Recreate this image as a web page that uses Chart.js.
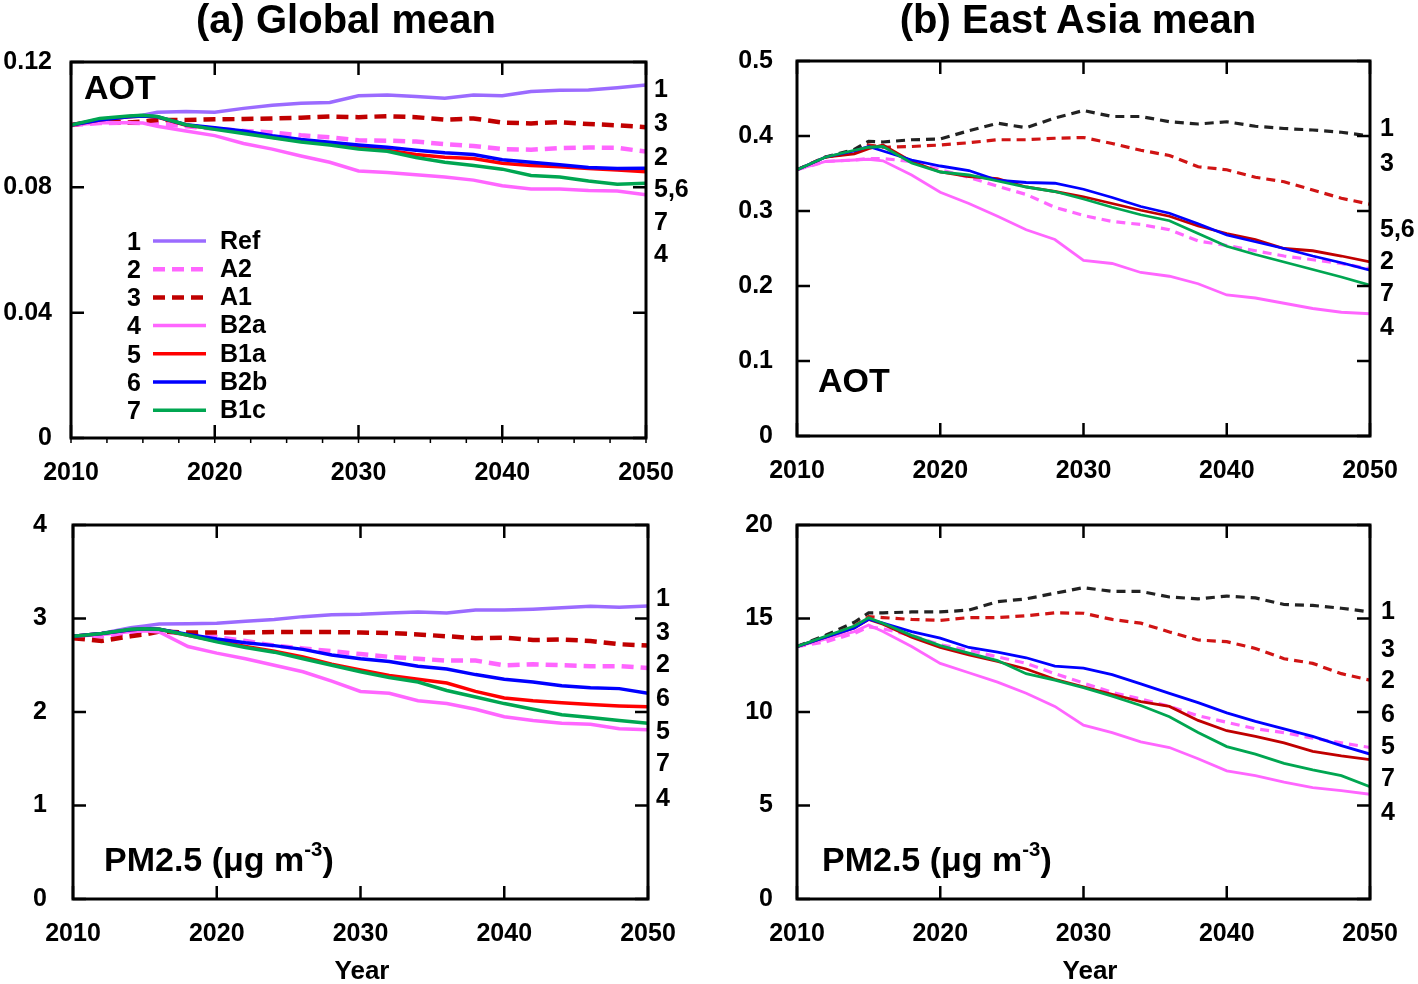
<!DOCTYPE html>
<html>
<head>
<meta charset="utf-8">
<script src="https://cdn.jsdelivr.net/npm/chart.js@4.4.1/dist/chart.umd.min.js"></script>
<style>
  body { margin: 0; background: #fff; width: 1418px; height: 984px; position: relative; overflow: hidden;
         font-family: "Liberation Sans", Arial, sans-serif; font-weight: bold; color: #000; }
  canvas { position: absolute; }
  .txt { position: absolute; white-space: nowrap; line-height: 1; }
  .txt sup { font-size: 0.6em; vertical-align: 0.75em; line-height: 0; }
</style>
</head>
<body>
<canvas id="chartA" width="709" height="500" style="left:0;top:0"></canvas>
<canvas id="chartB" width="709" height="500" style="left:709px;top:0"></canvas>
<canvas id="chartC" width="709" height="461" style="left:0;top:500px"></canvas>
<canvas id="chartD" width="709" height="461" style="left:709px;top:500px"></canvas>

<script>
const years = [2010, 2012, 2014, 2015, 2016, 2018, 2020, 2022, 2024, 2026, 2028,
               2030, 2032, 2034, 2036, 2038, 2040, 2042, 2044, 2046, 2048, 2050];
const xTickYears = [2010, 2020, 2030, 2040, 2050];
const scenarioNumbers = ["1", "2", "3", "4", "5", "6", "7"];
const scenarioNames = ["Ref", "A2", "A1", "B2a", "B1a", "B2b", "B1c"];

// (a) global mean AOT
const gAotRef = [0.0999, 0.1017, 0.1025, 0.1030, 0.1040, 0.1042, 0.1040, 0.1052, 0.1062, 0.1068, 0.1071, 0.1092, 0.1095, 0.1090, 0.1084, 0.1095, 0.1092, 0.1106, 0.1110, 0.1111, 0.1118, 0.1127];
const gAotA2  = [0.0999, 0.1005, 0.1006, 0.1005, 0.1003, 0.0995, 0.0987, 0.0980, 0.0975, 0.0966, 0.0960, 0.0950, 0.0949, 0.0946, 0.0938, 0.0932, 0.0922, 0.0920, 0.0925, 0.0927, 0.0926, 0.0914];
const gAotA1  = [0.0999, 0.1013, 0.1007, 0.1010, 0.1015, 0.1015, 0.1017, 0.1018, 0.1020, 0.1022, 0.1026, 0.1024, 0.1027, 0.1024, 0.1016, 0.1020, 0.1007, 0.1004, 0.1008, 0.1002, 0.0998, 0.0992];
const gAotB2a = [0.0999, 0.1006, 0.1006, 0.1005, 0.0995, 0.0980, 0.0965, 0.0940, 0.0922, 0.0900, 0.0880, 0.0852, 0.0847, 0.0840, 0.0833, 0.0823, 0.0805, 0.0795, 0.0795, 0.0790, 0.0788, 0.0776];
const gAotB1a = [0.0999, 0.1015, 0.1025, 0.1028, 0.1024, 0.0998, 0.0988, 0.0975, 0.0960, 0.0948, 0.0938, 0.0928, 0.0918, 0.0905, 0.0896, 0.0892, 0.0877, 0.0870, 0.0866, 0.0860, 0.0855, 0.0850];
const gAotB2b = [0.0999, 0.1015, 0.1025, 0.1028, 0.1025, 0.1000, 0.0990, 0.0980, 0.0965, 0.0953, 0.0944, 0.0935, 0.0928, 0.0918, 0.0910, 0.0905, 0.0888, 0.0880, 0.0872, 0.0863, 0.0860, 0.0861];
const gAotB1c = [0.0999, 0.1020, 0.1028, 0.1030, 0.1026, 0.1000, 0.0985, 0.0972, 0.0958, 0.0945, 0.0935, 0.0922, 0.0915, 0.0895, 0.0880, 0.0870, 0.0858, 0.0838, 0.0833, 0.0820, 0.0810, 0.0813];
const gAotTicks = [0, 0.04, 0.08, 0.12];

// (b) East Asia mean AOT
const eaAotRef = [0.355, 0.372, 0.382, 0.393, 0.392, 0.395, 0.396, 0.407, 0.417, 0.411, 0.424, 0.434, 0.426, 0.426, 0.419, 0.416, 0.419, 0.413, 0.410, 0.408, 0.405, 0.400];
const eaAotA2  = [0.355, 0.366, 0.368, 0.370, 0.370, 0.366, 0.355, 0.345, 0.333, 0.322, 0.305, 0.294, 0.286, 0.282, 0.275, 0.260, 0.254, 0.247, 0.240, 0.235, 0.230, 0.223];
const eaAotA1  = [0.355, 0.372, 0.378, 0.388, 0.385, 0.386, 0.388, 0.391, 0.395, 0.395, 0.397, 0.398, 0.390, 0.381, 0.374, 0.359, 0.355, 0.345, 0.339, 0.328, 0.317, 0.309];
const eaAotB2a = [0.355, 0.366, 0.368, 0.369, 0.367, 0.348, 0.325, 0.310, 0.293, 0.275, 0.262, 0.234, 0.230, 0.218, 0.213, 0.203, 0.188, 0.184, 0.177, 0.170, 0.165, 0.163];
const eaAotB1a = [0.355, 0.372, 0.376, 0.383, 0.388, 0.366, 0.352, 0.346, 0.343, 0.332, 0.326, 0.319, 0.310, 0.301, 0.293, 0.280, 0.270, 0.262, 0.250, 0.247, 0.240, 0.232];
const eaAotB2b = [0.355, 0.372, 0.380, 0.386, 0.380, 0.368, 0.360, 0.354, 0.341, 0.338, 0.337, 0.329, 0.318, 0.306, 0.297, 0.283, 0.268, 0.259, 0.250, 0.240, 0.231, 0.221];
const eaAotB1c = [0.355, 0.372, 0.381, 0.385, 0.386, 0.364, 0.352, 0.348, 0.340, 0.332, 0.326, 0.316, 0.305, 0.295, 0.287, 0.270, 0.253, 0.242, 0.232, 0.222, 0.212, 0.201];
const eaAotTicks = [0, 0.1, 0.2, 0.3, 0.4, 0.5];

// global mean PM2.5
const gPmRef = [2.81, 2.84, 2.90, 2.92, 2.94, 2.945, 2.95, 2.97, 2.99, 3.02, 3.04, 3.045, 3.06, 3.07, 3.06, 3.09, 3.09, 3.10, 3.115, 3.13, 3.12, 3.135];
const gPmA2  = [2.81, 2.81, 2.84, 2.86, 2.87, 2.83, 2.80, 2.76, 2.71, 2.68, 2.65, 2.62, 2.59, 2.57, 2.55, 2.55, 2.50, 2.51, 2.50, 2.49, 2.49, 2.47];
const gPmA1  = [2.79, 2.76, 2.81, 2.83, 2.86, 2.85, 2.85, 2.85, 2.855, 2.855, 2.855, 2.85, 2.845, 2.83, 2.81, 2.79, 2.795, 2.77, 2.775, 2.76, 2.725, 2.71];
const gPmB2a = [2.81, 2.83, 2.86, 2.87, 2.855, 2.70, 2.63, 2.57, 2.50, 2.43, 2.33, 2.22, 2.20, 2.12, 2.09, 2.03, 1.95, 1.91, 1.88, 1.87, 1.82, 1.81];
const gPmB1a = [2.81, 2.84, 2.88, 2.89, 2.885, 2.82, 2.76, 2.70, 2.65, 2.59, 2.51, 2.45, 2.39, 2.35, 2.31, 2.22, 2.15, 2.12, 2.10, 2.08, 2.065, 2.055];
const gPmB2b = [2.81, 2.84, 2.88, 2.89, 2.885, 2.83, 2.78, 2.74, 2.71, 2.67, 2.61, 2.57, 2.54, 2.49, 2.46, 2.40, 2.35, 2.32, 2.28, 2.26, 2.25, 2.20];
const gPmB1c = [2.81, 2.84, 2.885, 2.89, 2.885, 2.82, 2.75, 2.69, 2.64, 2.57, 2.50, 2.43, 2.37, 2.32, 2.23, 2.16, 2.09, 2.03, 1.97, 1.94, 1.91, 1.88];
const gPmTicks = [0, 1, 2, 3, 4];

// East Asia mean PM2.5
const eaPmRef = [13.5, 14.1, 14.8, 15.3, 15.3, 15.35, 15.35, 15.45, 15.9, 16.05, 16.35, 16.65, 16.45, 16.45, 16.15, 16.05, 16.2, 16.1, 15.75, 15.7, 15.55, 15.35];
const eaPmA1  = [13.5, 14.0, 14.6, 15.1, 15.05, 14.95, 14.9, 15.05, 15.05, 15.15, 15.3, 15.28, 14.95, 14.75, 14.28, 13.85, 13.76, 13.4, 12.85, 12.6, 12.05, 11.7];
const eaPmA2  = [13.5, 13.75, 14.2, 14.55, 14.45, 14.1, 13.6, 13.3, 12.95, 12.6, 12.05, 11.55, 11.05, 10.7, 10.3, 9.8, 9.45, 9.1, 8.9, 8.6, 8.35, 8.1];
const eaPmB2a = [13.5, 13.9, 14.3, 14.65, 14.3, 13.5, 12.6, 12.1, 11.6, 11.0, 10.3, 9.3, 8.9, 8.4, 8.1, 7.5, 6.85, 6.6, 6.25, 5.95, 5.8, 5.6];
const eaPmB1a = [13.5, 14.0, 14.5, 14.95, 14.7, 14.0, 13.45, 13.05, 12.7, 12.3, 11.75, 11.35, 10.95, 10.55, 10.3, 9.55, 9.0, 8.7, 8.35, 7.9, 7.65, 7.45];
const eaPmB2b = [13.5, 14.0, 14.5, 14.96, 14.75, 14.3, 13.95, 13.45, 13.2, 12.9, 12.45, 12.35, 12.0, 11.5, 11.0, 10.5, 9.95, 9.5, 9.1, 8.7, 8.2, 7.75];
const eaPmB1c = [13.5, 14.05, 14.6, 15.04, 14.75, 14.1, 13.55, 13.15, 12.75, 12.05, 11.7, 11.3, 10.85, 10.35, 9.75, 8.9, 8.15, 7.75, 7.25, 6.9, 6.6, 6.0];
const eaPmTicks = [0, 5, 10, 15, 20];

const FONT = '"Liberation Sans", Arial, sans-serif';
const DASH_A = [12, 7];
const DASH_B = [9, 6];

// line styles, in scenario order
const globalStyles = [
  { color: "#9b6bff", dash: [] },
  { color: "#ff66ff", dash: DASH_A },
  { color: "#c00000", dash: DASH_A },
  { color: "#ff66ff", dash: [] },
  { color: "#ff0000", dash: [] },
  { color: "#0000ff", dash: [] },
  { color: "#00a651", dash: [] }
];
const eastAsiaStyles = [
  { color: "#222222", dash: DASH_B },
  { color: "#ff66ff", dash: DASH_B },
  { color: "#d01414", dash: DASH_B },
  { color: "#ff66ff", dash: [] },
  { color: "#c00000", dash: [] },
  { color: "#0000ff", dash: [] },
  { color: "#00a651", dash: [] }
];

// frame with inward ticks, like the original plotting package
const framePlugin = {
  id: "frame",
  afterDraw(chart, args, opts) {
    const { ctx, chartArea: a, scales: { x, y } } = chart;
    ctx.save();
    ctx.strokeStyle = "#000";
    ctx.lineWidth = 2.5;
    ctx.beginPath();
    y.ticks.forEach(t => {
      const py = y.getPixelForValue(t.value);
      ctx.moveTo(a.left, py); ctx.lineTo(a.left + 13, py);
      ctx.moveTo(a.right, py); ctx.lineTo(a.right - 13, py);
    });
    x.ticks.forEach(t => {
      const px = x.getPixelForValue(t.value);
      ctx.moveTo(px, a.top); ctx.lineTo(px, a.top + 13);
      ctx.moveTo(px, a.bottom); ctx.lineTo(px, a.bottom - 13);
    });
    ctx.stroke();
    if (opts.minor) {
      ctx.lineWidth = 1.5;
      ctx.beginPath();
      for (let yr = x.min; yr <= x.max; yr += 2.5) {
        const px = x.getPixelForValue(yr);
        ctx.moveTo(px, a.bottom); ctx.lineTo(px, a.bottom + 5);
      }
      ctx.stroke();
    }
    ctx.lineWidth = 3;
    ctx.strokeRect(a.left, a.top, a.right - a.left, a.bottom - a.top);
    ctx.restore();
  }
};

// "1 ——— Ref" style key inside panel (a)
const keyPlugin = {
  id: "scenarioKey",
  afterDraw(chart, args, opts) {
    if (!opts.show) return;
    const ctx = chart.ctx;
    ctx.save();
    ctx.font = "bold 25px " + FONT;
    ctx.fillStyle = "#000";
    ctx.textBaseline = "middle";
    chart.data.datasets.forEach((ds, i) => {
      const rowY = opts.top + i * opts.step;
      ctx.textAlign = "right";
      ctx.fillText(scenarioNumbers[i], opts.numX, rowY + 2);
      ctx.textAlign = "left";
      ctx.fillText(scenarioNames[i], opts.nameX, rowY + 1);
      ctx.beginPath();
      ctx.strokeStyle = ds.borderColor;
      ctx.lineWidth = ds.borderWidth;
      ctx.setLineDash(ds.borderDash);
      ctx.moveTo(opts.lineX0, rowY);
      ctx.lineTo(opts.lineX1, rowY);
      ctx.stroke();
      ctx.setLineDash([]);
    });
    ctx.restore();
  }
};

const panels = [
  { id: "chartA", series: [gAotRef, gAotA2, gAotA1, gAotB2a, gAotB1a, gAotB2b, gAotB1c],
    ticks: gAotTicks, styles: globalStyles, lineWidth: 3.5, dashWidth: 4.5,
    yWidth: 71, yPad: 19, padTop: 62, padRight: 63, xHeight: 62, minor: true,
    key: { show: true, top: 241, step: 28.2, numX: 141, lineX0: 153, lineX1: 206, nameX: 220 } },
  { id: "chartB", series: [eaAotRef, eaAotA2, eaAotA1, eaAotB2a, eaAotB1a, eaAotB2b, eaAotB1c],
    ticks: eaAotTicks, styles: eastAsiaStyles, lineWidth: 2.8, dashWidth: 3.2,
    yWidth: 88, yPad: 24, padTop: 61, padRight: 48, xHeight: 64, minor: false, key: { show: false } },
  { id: "chartC", series: [gPmRef, gPmA2, gPmA1, gPmB2a, gPmB1a, gPmB2b, gPmB1c],
    ticks: gPmTicks, styles: globalStyles, lineWidth: 3.5, dashWidth: 4.5,
    yWidth: 73, yPad: 26, padTop: 25, padRight: 61, xHeight: 62, minor: false, key: { show: false } },
  { id: "chartD", series: [eaPmRef, eaPmA2, eaPmA1, eaPmB2a, eaPmB1a, eaPmB2b, eaPmB1c],
    ticks: eaPmTicks, styles: eastAsiaStyles, lineWidth: 2.8, dashWidth: 3.2,
    yWidth: 88, yPad: 24, padTop: 25, padRight: 48, xHeight: 62, minor: false, key: { show: false } }
];

const tickFont = { family: FONT, size: 25, weight: "bold" };

panels.forEach(p => {
  const n = p.series.length;
  new Chart(document.getElementById(p.id), {
    type: "line",
    data: {
      datasets: p.series.map((vals, i) => {
        const st = p.styles[i];
        return {
          label: scenarioNames[i],
          data: vals.map((v, k) => ({ x: years[k], y: v })),
          borderColor: st.color,
          borderDash: st.dash,
          borderWidth: st.dash.length ? p.dashWidth : p.lineWidth,
          pointRadius: 0,
          fill: false,
          tension: 0,
          order: n - i
        };
      })
    },
    options: {
      responsive: false,
      animation: false,
      events: [],
      layout: { padding: { top: p.padTop, right: p.padRight, left: 0, bottom: 0 } },
      plugins: {
        legend: { display: false },
        tooltip: { enabled: false },
        frame: { minor: p.minor },
        scenarioKey: p.key
      },
      scales: {
        x: {
          type: "linear", min: 2010, max: 2050,
          grid: { display: false, drawTicks: false },
          border: { display: false },
          afterBuildTicks: s => { s.ticks = xTickYears.map(v => ({ value: v })); },
          afterFit: s => { s.height = p.xHeight; s.paddingLeft = 0; s.paddingRight = 0; },
          ticks: { padding: 20, maxRotation: 0, autoSkip: false, color: "#000", font: tickFont,
                   callback: v => String(v) }
        },
        y: {
          min: p.ticks[0], max: p.ticks[p.ticks.length - 1],
          grid: { display: false, drawTicks: false },
          border: { display: false },
          afterBuildTicks: s => { s.ticks = p.ticks.map(v => ({ value: v })); },
          afterFit: s => { s.width = p.yWidth; s.paddingTop = 0; s.paddingBottom = 0; },
          ticks: { padding: p.yPad, autoSkip: false, color: "#000", font: tickFont,
                   callback: v => String(v) }
        }
      }
    },
    plugins: [framePlugin, keyPlugin]
  });
});

// titles and panel text
const texts = [
  { html: "(a) Global mean", x: 346, y: 19, size: 40, center: true },
  { html: "(b) East Asia mean", x: 1078, y: 19, size: 40, center: true },
  { html: "AOT", x: 84, y: 87, size: 34 },
  { html: "AOT", x: 818, y: 380, size: 34 },
  { html: "PM2.5 (μg m<sup>-3</sup>)", x: 104, y: 859, size: 34 },
  { html: "PM2.5 (μg m<sup>-3</sup>)", x: 822, y: 859, size: 34 },
  { html: "Year", x: 362, y: 970, size: 26, center: true },
  { html: "Year", x: 1090, y: 970, size: 26, center: true }
];
// scenario numbers at the right end of each panel
const endLabels = [
  { x: 654, items: [["1", 88], ["3", 122], ["2", 156], ["5,6", 188], ["7", 221], ["4", 253]] },
  { x: 1380, items: [["1", 127], ["3", 162], ["5,6", 228], ["2", 260], ["7", 292], ["4", 326]] },
  { x: 656, items: [["1", 597], ["3", 631], ["2", 663], ["6", 697], ["5", 730], ["7", 762], ["4", 797]] },
  { x: 1381, items: [["1", 610], ["3", 648], ["2", 679], ["6", 713], ["5", 745], ["7", 777], ["4", 811]] }
];
endLabels.forEach(g => g.items.forEach(([t, y]) => texts.push({ html: t, x: g.x, y: y, size: 25 })));

texts.forEach(t => {
  const el = document.createElement("div");
  el.className = "txt";
  el.innerHTML = t.html;
  el.style.fontSize = t.size + "px";
  el.style.left = t.x + "px";
  el.style.top = t.y + "px";
  el.style.transform = t.center ? "translate(-50%, -50%)" : "translate(0, -50%)";
  document.body.appendChild(el);
});
</script>
</body>
</html>
